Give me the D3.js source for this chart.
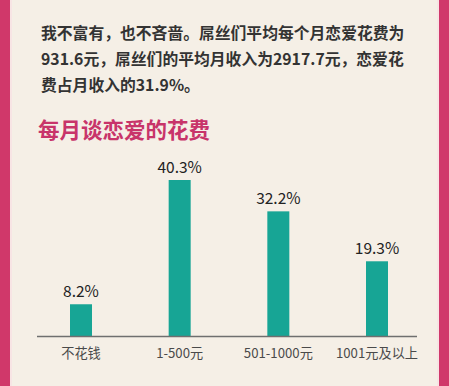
<!DOCTYPE html>
<html>
<head>
<meta charset="utf-8">
<script src="https://cdn.jsdelivr.net/npm/d3@7"></script>
<style>
  html, body { margin: 0; padding: 0; background: #f5efe6; }
  svg { display: block; }
</style>
</head>
<body>
<script>
var categories = ["不花钱", "1-500元", "501-1000元", "1001元及以上"];
var values = [8.2, 40.3, 32.2, 19.3];
var valueLabels = ["8.2%", "40.3%", "32.2%", "19.3%"];
var introLines = [
  "我不富有，也不吝啬。屌丝们平均每个月恋爱花费为",
  "931.6元，屌丝们的平均月收入为2917.7元，恋爱花",
  "费占月收入的31.9%。"
];
var title = "每月谈恋爱的花费";

var w = 449, h = 386;
var font = "'Noto Sans CJK SC', 'Noto Sans', sans-serif";
var baseY = 336;

var svg = d3.select("body").append("svg")
  .attr("width", w)
  .attr("height", h);

// background and pink side borders
svg.append("rect").attr("width", w).attr("height", h).attr("fill", "#f5efe6");
svg.append("rect").attr("x", 0).attr("y", 0).attr("width", 10).attr("height", h).attr("fill", "#d0386a");
svg.append("rect").attr("x", 10).attr("y", 0).attr("width", 2).attr("height", h).attr("fill", "#f7e4e4");
svg.append("rect").attr("x", 439).attr("y", 0).attr("width", 10).attr("height", h).attr("fill", "#d0386a");
svg.append("rect").attr("x", 437).attr("y", 0).attr("width", 2).attr("height", h).attr("fill", "#f7e4e4");

// intro paragraph
svg.selectAll(".intro")
  .data(introLines)
  .enter().append("text")
  .attr("class", "intro")
  .attr("x", 41)
  .attr("y", function(d, i){ return 39 + i * 26; })
  .attr("font-family", font)
  .attr("font-size", 15.8)
  .attr("font-weight", "bold")
  .attr("fill", "#333")
  .text(function(d){ return d; });

svg.append("text")
  .attr("x", 38)
  .attr("y", 138)
  .attr("font-family", font)
  .attr("font-size", 21.5)
  .attr("font-weight", "bold")
  .attr("fill", "#c8346a")
  .text(title);

var x = d3.scalePoint()
  .domain(categories)
  .range([81, 377]);

var y = d3.scaleLinear()
  .domain([0, 40.3])
  .range([baseY, 180]);

var barW = 22;

svg.selectAll(".bar")
  .data(values)
  .enter().append("rect")
  .attr("class", "bar")
  .attr("x", function(d, i){ return x(categories[i]) - barW / 2; })
  .attr("y", function(d){ return y(d); })
  .attr("width", barW)
  .attr("height", function(d){ return baseY - y(d); })
  .attr("fill", "#17a595");

svg.selectAll(".val")
  .data(values)
  .enter().append("text")
  .attr("class", "val")
  .attr("x", function(d, i){ return x(categories[i]); })
  .attr("y", function(d){ return y(d) - 7; })
  .attr("text-anchor", "middle")
  .attr("font-family", font)
  .attr("font-size", 15.5)
  .attr("fill", "#222")
  .text(function(d, i){ return valueLabels[i]; });

// baseline
svg.append("line")
  .attr("x1", 37).attr("x2", 417)
  .attr("y1", baseY + 0.5).attr("y2", baseY + 0.5)
  .attr("stroke", "#6f6f6f")
  .attr("stroke-width", 1.5);

svg.selectAll(".cat")
  .data(categories)
  .enter().append("text")
  .attr("class", "cat")
  .attr("x", function(d){ return x(d); })
  .attr("y", 358)
  .attr("text-anchor", "middle")
  .attr("font-family", font)
  .attr("font-size", 13.2)
  .attr("fill", "#4a4a4a")
  .text(function(d){ return d; });
</script>
</body>
</html>
